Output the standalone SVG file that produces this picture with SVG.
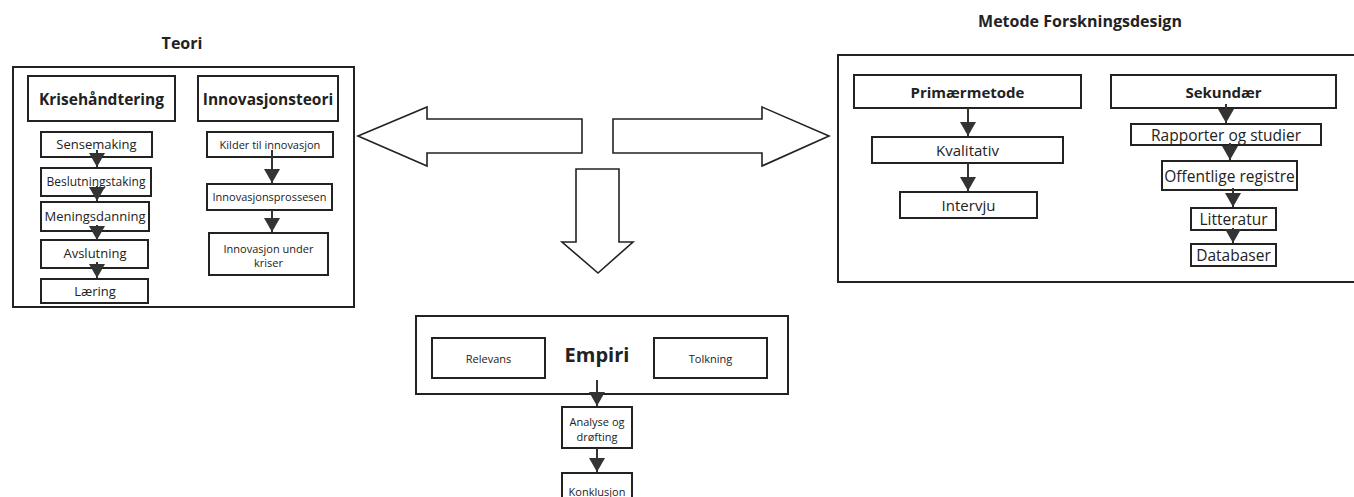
<svg xmlns="http://www.w3.org/2000/svg" width="1354" height="497" viewBox="0 0 1354 497">
<style>
.bx{fill:#fff;stroke:#222;stroke-width:2}
.ob{fill:none;stroke:#222;stroke-width:2}
.big{fill:#fff;stroke:#222;stroke-width:1.6;stroke-linejoin:miter}
.t{font-family:"Open Sans","Noto Sans","Liberation Sans",sans-serif;fill:#222;text-anchor:middle;dominant-baseline:central}
.b{font-weight:bold}
.cn{stroke:#333;stroke-width:2;fill:none}
</style>
<defs>
<marker id="ah" viewBox="0 0 14 16" refX="14" refY="8" markerWidth="14" markerHeight="16" markerUnits="userSpaceOnUse" orient="auto">
<path d="M0,0 L14,8 L0,16 z" fill="#333"/>
</marker>
</defs>
<rect width="1354" height="497" fill="#fff"/>

<g id="teori">
<text class="t b" x="182" y="43" font-size="16">Teori</text>
<rect class="ob" x="13" y="67" width="341" height="240"/>
</g>
<g id="krisehandtering"><rect class="bx" x="28" y="76" width="147" height="45"/><text class="t b" x="101.5" y="98.5" font-size="15.5">Krisehåndtering</text></g>
<g id="innovasjonsteori"><rect class="bx" x="198" y="76" width="140" height="45"/><text class="t b" x="268" y="98.5" font-size="15.5">Innovasjonsteori</text></g>
<g id="sensemaking"><rect class="bx" x="41" y="132" width="111" height="25"/><text class="t" x="96.5" y="143.5" font-size="13">Sensemaking</text></g>
<g id="beslutningstaking"><rect class="bx" x="41" y="168" width="110" height="28"/><text class="t" x="96" y="181" font-size="12">Beslutningstaking</text></g>
<g id="meningsdanning"><rect class="bx" x="41" y="202" width="108" height="29"/><text class="t" x="95" y="216" font-size="13">Meningsdanning</text></g>
<g id="avslutning"><rect class="bx" x="41" y="240" width="107" height="28"/><text class="t" x="95" y="253" font-size="13">Avslutning</text></g>
<g id="laering"><rect class="bx" x="41" y="279" width="107" height="24"/><text class="t" x="95" y="290.5" font-size="13">Læring</text></g>
<g id="kilder"><rect class="bx" x="207" y="132" width="126" height="25"/><text class="t" x="270" y="144" font-size="11">Kilder til innovasjon</text></g>
<g id="innovasjonsprossesen"><rect class="bx" x="207" y="184" width="125" height="26"/><text class="t" x="269.5" y="196.5" font-size="11">Innovasjonsprossesen</text></g>
<g id="innovasjon-under-kriser"><rect class="bx" x="209" y="233" width="119" height="42"/><text class="t" x="268.5" y="248" font-size="11">Innovasjon under</text><text class="t" x="268.5" y="262" font-size="11">kriser</text></g>

<g id="metode">
<text class="t b" x="1080" y="21" font-size="16">Metode Forskningsdesign</text>
<rect class="ob" x="838" y="55" width="530" height="227"/>
</g>
<g id="primaermetode"><rect class="bx" x="854" y="75" width="227" height="33"/><text class="t b" x="967.5" y="91.5" font-size="15">Primærmetode</text></g>
<g id="sekundaer"><rect class="bx" x="1111" y="75" width="225" height="33"/><text class="t b" x="1223.5" y="91.5" font-size="15">Sekundær</text></g>
<g id="kvalitativ"><rect class="bx" x="872" y="137" width="191" height="26"/><text class="t" x="967.5" y="150" font-size="15">Kvalitativ</text></g>
<g id="intervju"><rect class="bx" x="900" y="192" width="137" height="26"/><text class="t" x="968.5" y="205" font-size="15">Intervju</text></g>
<g id="rapporter"><rect class="bx" x="1131" y="124" width="190" height="21"/><text class="t" x="1226" y="134.5" font-size="15.5">Rapporter og studier</text></g>
<g id="offentlige"><rect class="bx" x="1162" y="161" width="135" height="29"/><text class="t" x="1229.5" y="175.5" font-size="15.5">Offentlige registre</text></g>
<g id="litteratur"><rect class="bx" x="1191" y="208" width="85" height="22"/><text class="t" x="1233.5" y="219" font-size="15.5">Litteratur</text></g>
<g id="databaser"><rect class="bx" x="1191" y="244" width="85" height="22"/><text class="t" x="1233.5" y="255" font-size="15.5">Databaser</text></g>

<g id="empiri">
<rect class="ob" x="416" y="316" width="372" height="78"/>
<text class="t b" x="597" y="354" font-size="20">Empiri</text>
</g>
<g id="relevans"><rect class="bx" x="432" y="338" width="113" height="40"/><text class="t" x="488.5" y="358" font-size="11">Relevans</text></g>
<g id="tolkning"><rect class="bx" x="654" y="338" width="113" height="40"/><text class="t" x="710.5" y="358" font-size="11">Tolkning</text></g>
<g id="analyse"><rect class="bx" x="562" y="407" width="70" height="41"/><text class="t" x="597" y="421.5" font-size="11">Analyse og</text><text class="t" x="597" y="436.5" font-size="11">drøfting</text></g>
<g id="konklusjon"><rect class="bx" x="562" y="473" width="70" height="30"/><text class="t" x="597" y="491" font-size="11">Konklusjon</text></g>

<g id="connectors">
<polygon class="big" points="358,136 427,107 427,119 582,119 582,153 427,153 427,166"/>
<polygon class="big" points="613,119 762,119 762,107 829,136 762,166 762,153 613,153"/>
<polygon class="big" points="576,169 619,169 619,242 633,242 598,273 562,242 576,242"/>
<line class="cn" x1="97" y1="150" x2="97" y2="167" marker-end="url(#ah)"/>
<line class="cn" x1="97" y1="186" x2="97" y2="201" marker-end="url(#ah)"/>
<line class="cn" x1="97" y1="225" x2="97" y2="240" marker-end="url(#ah)"/>
<line class="cn" x1="97" y1="262" x2="97" y2="278" marker-end="url(#ah)"/>
<line class="cn" x1="272" y1="150" x2="272" y2="183" marker-end="url(#ah)"/>
<line class="cn" x1="272" y1="210" x2="272" y2="232" marker-end="url(#ah)"/>
<line class="cn" x1="968" y1="108" x2="968" y2="136" marker-end="url(#ah)"/>
<line class="cn" x1="968" y1="163" x2="968" y2="191" marker-end="url(#ah)"/>
<line class="cn" x1="1226" y1="104" x2="1226" y2="123" marker-end="url(#ah)"/>
<line class="cn" x1="1230" y1="143" x2="1230" y2="160" marker-end="url(#ah)"/>
<line class="cn" x1="1233" y1="188" x2="1233" y2="207" marker-end="url(#ah)"/>
<line class="cn" x1="1233" y1="228" x2="1233" y2="243" marker-end="url(#ah)"/>
<line class="cn" x1="597" y1="380" x2="597" y2="406" marker-end="url(#ah)"/>
<line class="cn" x1="597" y1="448" x2="597" y2="472" marker-end="url(#ah)"/>
</g>
</svg>
